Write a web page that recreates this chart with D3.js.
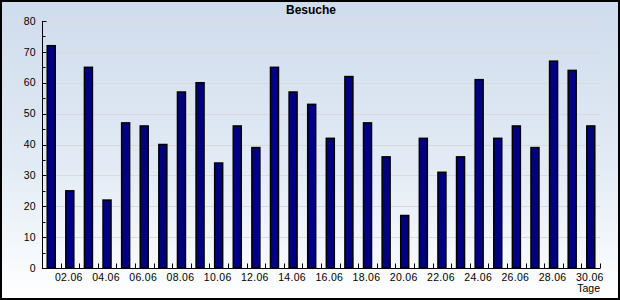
<!DOCTYPE html>
<html>
<head>
<meta charset="utf-8">
<script src="https://cdn.jsdelivr.net/npm/d3@7"></script>
<style>
  html, body { margin: 0; padding: 0; background: #fff; }
  svg { display: block; font-family: "Liberation Sans", Arial, sans-serif; }
</style>
</head>
<body>
<div id="chart"></div>
<script>
// Besuche pro Tag (Juni)
const days = d3.range(1, 31).map(d => String(d).padStart(2, "0") + ".06");
const visits = [72, 25, 65, 22, 47, 46, 40, 57, 60, 34, 46, 39, 65, 57, 53,
                42, 62, 47, 36, 17, 42, 31, 36, 61, 42, 46, 39, 67, 64, 46];
const yTicks = [0, 10, 20, 30, 40, 50, 60, 70, 80];
const yMinorTicks = [5, 15, 25, 35, 45, 55, 65, 75];
const titleText = "Besuche";
const xAxisLabel = "Tage";

const width = 620, height = 300;
const margin = { top: 21, right: 20, bottom: 32, left: 42 };

const svg = d3.select("#chart").append("svg")
  .attr("width", width)
  .attr("height", height);

// background gradient
const grad = svg.append("defs").append("linearGradient")
  .attr("id", "bg").attr("x1", 0).attr("y1", 0).attr("x2", 0).attr("y2", 1);
grad.append("stop").attr("offset", "0%").attr("stop-color", "#cfdcec");
grad.append("stop").attr("offset", "55%").attr("stop-color", "#e2ebf5");
grad.append("stop").attr("offset", "100%").attr("stop-color", "#ffffff");

svg.append("rect")
  .attr("x", 1).attr("y", 1)
  .attr("width", width - 2).attr("height", height - 2)
  .attr("fill", "url(#bg)")
  .attr("stroke", "#000")
  .attr("stroke-width", 2);

const x = d3.scaleBand()
  .domain(days)
  .range([margin.left, width - margin.right])
  .paddingInner(0.57)
  .paddingOuter(0.28);

const xEdges = d3.scaleLinear()
  .domain([0, days.length])
  .range([margin.left, width - margin.right]);

const y = d3.scaleLinear()
  .domain([0, 80])
  .range([height - margin.bottom, margin.top]);

// grid lines
svg.append("g")
  .selectAll("line")
  .data(yTicks.slice(1))
  .enter().append("line")
  .attr("x1", margin.left)
  .attr("x2", width - margin.right)
  .attr("y1", d => Math.round(y(d)) + 0.5)
  .attr("y2", d => Math.round(y(d)) + 0.5)
  .attr("stroke", "#dcdad6")
  .attr("stroke-width", 1);

// bars
svg.append("g")
  .selectAll("rect")
  .data(visits)
  .enter().append("rect")
  .attr("x", (d, i) => x(days[i]))
  .attr("y", d => y(d))
  .attr("width", x.bandwidth())
  .attr("height", d => y(0) - y(d))
  .attr("fill", "#000080")
  .attr("stroke", "#000")
  .attr("stroke-width", 1.5);

// y axis
const yAxis = svg.append("g")
  .attr("transform", `translate(${margin.left + 0.5},0)`);
yAxis.append("line")
  .attr("y1", y(80)).attr("y2", y(0) + 1)
  .attr("stroke", "#000");
yAxis.selectAll("line.major")
  .data(yTicks).enter().append("line")
  .attr("class", "major")
  .attr("x1", 0).attr("x2", 4)
  .attr("y1", d => Math.round(y(d)) + 0.5)
  .attr("y2", d => Math.round(y(d)) + 0.5)
  .attr("stroke", "#000");
yAxis.selectAll("line.minor")
  .data(yMinorTicks).enter().append("line")
  .attr("class", "minor")
  .attr("x1", 0).attr("x2", 3)
  .attr("y1", d => Math.round(y(d)) + 0.5)
  .attr("y2", d => Math.round(y(d)) + 0.5)
  .attr("stroke", "#000");
yAxis.selectAll("text")
  .data(yTicks).enter().append("text")
  .attr("x", -7)
  .attr("y", d => y(d))
  .attr("dy", "0.35em")
  .attr("text-anchor", "end")
  .style("font-size", "10.5px")
  .attr("fill", "#000")
  .text(d => d);

// x axis
const xAxis = svg.append("g")
  .attr("transform", `translate(0,${Math.round(y(0)) + 0.5})`);
xAxis.append("line")
  .attr("x1", margin.left).attr("x2", width - margin.right)
  .attr("stroke", "#000");
xAxis.selectAll("line.tick")
  .data(d3.range(1, days.length + 1)).enter().append("line")
  .attr("class", "tick")
  .attr("x1", d => Math.round(xEdges(d)) + 0.5)
  .attr("x2", d => Math.round(xEdges(d)) + 0.5)
  .attr("y1", 0).attr("y2", -5)
  .attr("stroke", "#000");
xAxis.selectAll("text")
  .data(days.filter((d, i) => i % 2 === 1)).enter().append("text")
  .attr("x", d => x(d) + x.bandwidth() / 2 - 1)
  .attr("y", 12)
  .attr("text-anchor", "middle")
  .style("font-size", "10.5px")
  .style("letter-spacing", "0.3px")
  .attr("fill", "#000")
  .text(d => d);

svg.append("text")
  .attr("x", width - margin.right)
  .attr("y", 292)
  .attr("text-anchor", "end")
  .style("font-size", "10.5px")
  .text(xAxisLabel);

svg.append("text")
  .attr("x", 311)
  .attr("y", 14)
  .attr("text-anchor", "middle")
  .style("font-size", "12px")
  .style("font-weight", "bold")
  .text(titleText);
</script>
</body>
</html>
